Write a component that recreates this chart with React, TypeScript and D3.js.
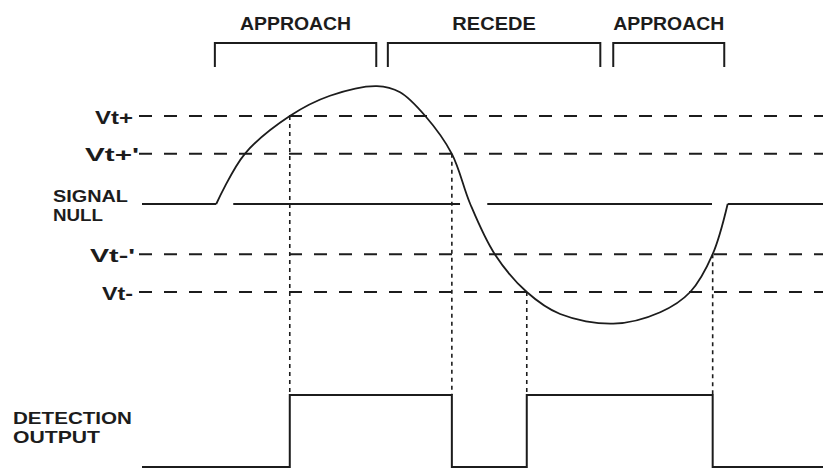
import * as d3 from "d3";

// threshold levels (signal units, null = 0)
const LEVEL_NAMES = ["Vt+", "Vt+'", "Vt-'", "Vt-"];
const LEVEL_VALUES = [1.0, 0.57, -0.57, -1.0];

// sensor signal trace
const SIGNAL_T = [10.9, 15.1, 21.7, 27.6, 34.5, 37.9, 41.6, 45.5, 48.2, 51.8, 56.5, 61.4, 69.2, 76.1, 80.5, 83.8, 86.0];
const SIGNAL_V = [0, 0.57, 1.0, 1.23, 1.34, 1.27, 1.0, 0.57, 0, -0.57, -1.0, -1.25, -1.36, -1.23, -1.0, -0.57, 0];

// signal-null baseline, drawn in pieces
const NULL_START = [0, 13.4, 50.7, 86.0];
const NULL_END = [10.9, 46.7, 83.7, 100];

// detection output switching
const SWITCH_T = [21.7, 45.5, 56.5, 83.8];
const SWITCH_LEVEL = ["Vt+", "Vt+'", "Vt-", "Vt-'"];
const SWITCH_STATE = [1, 0, 1, 0];

// phase brackets
const PHASE_LABELS = ["APPROACH", "RECEDE", "APPROACH"];
const PHASE_START = [10.7, 36.1, 69.2];
const PHASE_END = [34.4, 67.3, 85.5];

const W = 823;
const H = 469;
const INK = "#1c1c1c";
const FONT = "'Liberation Sans', Arial, Helvetica, sans-serif";

// label widths in the original scan (the lettering is wide)
const LEVEL_LABEL_X: Record<string, number> = { "Vt+": 95, "Vt+'": 85, "Vt-'": 90, "Vt-": 102 };
const LEVEL_LABEL_W: Record<string, number> = { "Vt+": 38, "Vt+'": 54, "Vt-'": 45, "Vt-": 31 };

export default function App() {
  const x = d3.scaleLinear().domain([0, 100]).range([142, W]);
  const y = d3.scaleLinear().domain([-1, 1]).range([292, 116]);
  const yOut = d3.scaleLinear().domain([0, 1]).range([467, 395]);

  const levelY = (name: string) => y(LEVEL_VALUES[LEVEL_NAMES.indexOf(name)]);

  const signalPts = SIGNAL_T.map((t, i) => [t, SIGNAL_V[i]] as [number, number]);
  const signalPath = d3
    .line<[number, number]>()
    .x((d) => x(d[0]))
    .y((d) => y(d[1]))
    .curve(d3.curveCatmullRom.alpha(0.5))(signalPts);

  const outPts: [number, number][] = [[0, 0]];
  SWITCH_T.forEach((t, i) => outPts.push([t, SWITCH_STATE[i]]));
  outPts.push([100, SWITCH_STATE[SWITCH_STATE.length - 1]]);
  const outPath = d3
    .line<[number, number]>()
    .x((d) => x(d[0]))
    .y((d) => yOut(d[1]))
    .curve(d3.curveStepAfter)(outPts);

  const bracketTop = 43;
  const bracketBottom = 67;

  return (
    <svg
      width={W}
      height={H}
      style={{ position: "absolute", left: 0, top: 0, background: "#fff" }}
      fontFamily={FONT}
      fontWeight="bold"
    >
      <rect width={W} height={H} fill="#fff" />

      {/* phase brackets */}
      {PHASE_LABELS.map((label, i) => {
        const x0 = x(PHASE_START[i]);
        const x1 = x(PHASE_END[i]);
        return (
          <g key={`ph${i}`}>
            <path
              d={`M${x0},${bracketBottom}V${bracketTop}H${x1}V${bracketBottom}`}
              fill="none"
              stroke={INK}
              strokeWidth={2}
            />
            <text
              x={(x0 + x1) / 2}
              y={30}
              textAnchor="middle"
              fontSize={18}
              fill={INK}
              textLength={label.length * 13.9}
              lengthAdjust="spacingAndGlyphs"
            >
              {label}
            </text>
          </g>
        );
      })}

      {/* threshold lines */}
      {LEVEL_NAMES.map((name, i) => (
        <g key={name}>
          <line
            x1={139}
            x2={W}
            y1={y(LEVEL_VALUES[i])}
            y2={y(LEVEL_VALUES[i])}
            stroke={INK}
            strokeWidth={2}
            strokeDasharray="13,12"
          />
          <text
            x={LEVEL_LABEL_X[name]}
            y={y(LEVEL_VALUES[i]) + 7.5}
            fontSize={18}
            fill={INK}
            textLength={LEVEL_LABEL_W[name]}
            lengthAdjust="spacingAndGlyphs"
          >
            {name}
          </text>
        </g>
      ))}

      {/* signal null */}
      {NULL_START.map((s, i) => (
        <line
          key={`n${i}`}
          x1={x(s)}
          x2={x(NULL_END[i])}
          y1={y(0)}
          y2={y(0)}
          stroke={INK}
          strokeWidth={2}
        />
      ))}
      <text x={53} y={202} fontSize={17} fill={INK} textLength={75} lengthAdjust="spacingAndGlyphs">
        SIGNAL
      </text>
      <text x={53} y={221} fontSize={17} fill={INK} textLength={50} lengthAdjust="spacingAndGlyphs">
        NULL
      </text>

      {/* signal trace */}
      <path d={signalPath ?? ""} fill="none" stroke={INK} strokeWidth={1.8} />

      {/* switching markers */}
      {SWITCH_T.map((t, i) => (
        <line
          key={`s${i}`}
          x1={x(t)}
          x2={x(t)}
          y1={levelY(SWITCH_LEVEL[i])}
          y2={yOut(1)}
          stroke={INK}
          strokeWidth={1.6}
          strokeDasharray="4,4"
        />
      ))}

      {/* detection output */}
      <path d={outPath ?? ""} fill="none" stroke={INK} strokeWidth={2} />
      <text x={13} y={424} fontSize={17} fill={INK} textLength={119} lengthAdjust="spacingAndGlyphs">
        DETECTION
      </text>
      <text x={13} y={443} fontSize={17} fill={INK} textLength={87} lengthAdjust="spacingAndGlyphs">
        OUTPUT
      </text>
    </svg>
  );
}
